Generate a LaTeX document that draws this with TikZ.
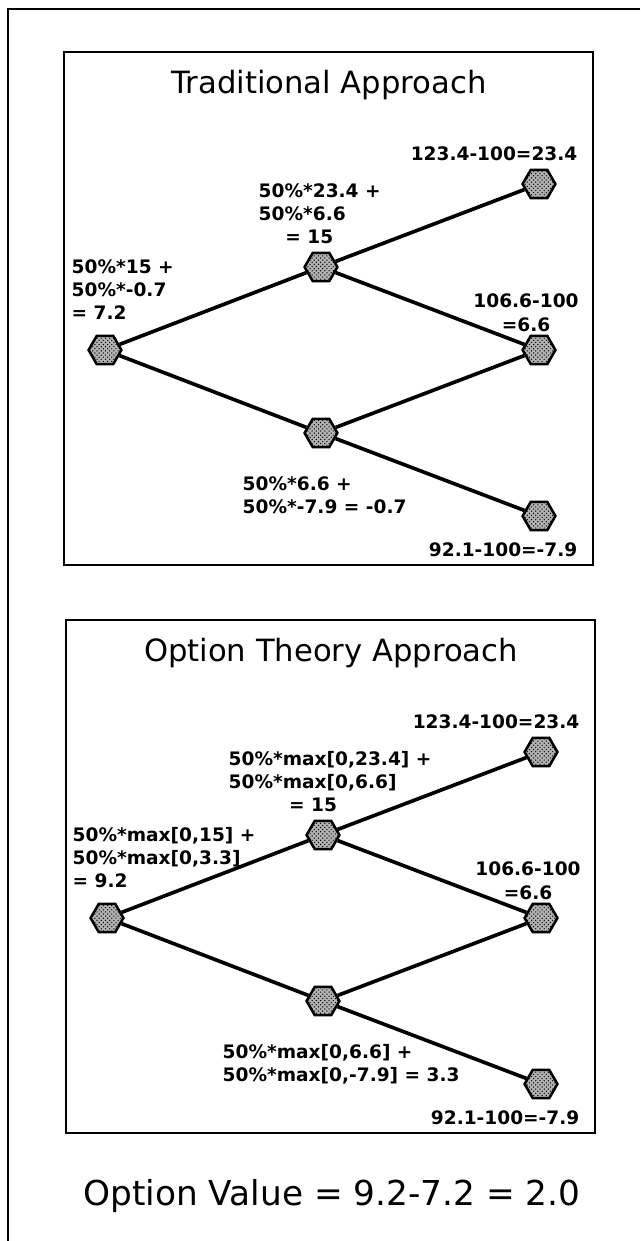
\documentclass[tikz,border=0pt]{standalone}
\usepackage{fontspec}
\setmainfont{DejaVu Sans}
\usetikzlibrary{shapes.geometric, patterns}
\tikzset{
  every picture/.style={line width=1pt},
  panel/.style={draw=black, line width=1pt},
  hex/.style={draw=black, regular polygon, regular polygon sides=6, minimum size=0.82cm, inner sep=0pt, line width=1.8pt, preaction={fill=black!30}, pattern=crosshatch dots, pattern color=black},
  edge/.style={draw=black, line width=2.6pt},
  title/.style={font=\fontsize{21.8}{26}\selectfont, inner sep=0pt},
  lbl/.style={font=\bfseries\fontsize{13.2}{16.4}\selectfont, inner sep=0pt, align=left},
}

\begin{document}
\begin{tikzpicture}[x=0.025cm, y=-0.025cm]
  \useasboundingbox (0,0) rectangle (640,1241);
  \draw[line width=2.1pt] (640,9) -- (8,9) -- (8,1241);
  \foreach \p/\dx/\dy/\ttl in {t/0/0/{Traditional Approach}, o/2/568/{Option Theory Approach}} {
    \draw[panel] (64+\dx,52+\dy) rectangle (593+\dx,565+\dy);
    \node[title] (\p-title) at (329+\dx,85+\dy) {\ttl};
    \node[hex] (\p-root) at (105+\dx,350+\dy) {};
    \node[hex] (\p-up) at (321+\dx,267+\dy) {};
    \node[hex] (\p-dn) at (321+\dx,433+\dy) {};
    \node[hex] (\p-ru) at (539+\dx,184+\dy) {};
    \node[hex] (\p-rm) at (539+\dx,350+\dy) {};
    \node[hex] (\p-rd) at (539+\dx,516+\dy) {};
    \foreach \a/\b in {root/up, root/dn, up/ru, up/rm, dn/rm, dn/rd} {\draw[edge] (\p-\a) -- (\p-\b);}
    \node[lbl, anchor=east] (\p-rulbl) at (578+\dx,154+\dy) {123.4-100=23.4};
    \node[lbl, align=center, anchor=south] (\p-rmlbl) at (526+\dx,332+\dy) {106.6-100\\=6.6};
    \node[lbl, anchor=east] (\p-rdlbl) at (578+\dx,550+\dy) {92.1-100=-7.9};
  }
  % traditional
  \node[lbl, anchor=north west] (t-rootlbl) at (71,259) {50\%*15 +\\50\%*-0.7\\= 7.2};
  \node[lbl, anchor=north west] (t-uplbl) at (258,183) {50\%*23.4 +\\50\%*6.6\\\hspace*{19pt}= 15};
  \node[lbl, anchor=north west] (t-dnlbl) at (242,476) {50\%*6.6 +\\50\%*-7.9 = -0.7};
  % option theory
  \node[lbl, anchor=north west] (o-rootlbl) at (72,827) {50\%*max[0,15] +\\50\%*max[0,3.3]\\= 9.2};
  \node[lbl, anchor=north west] (o-uplbl) at (228,751) {50\%*max[0,23.4] +\\50\%*max[0,6.6]\\\hspace*{43pt}= 15};
  \node[lbl, anchor=north west] (o-dnlbl) at (222,1044) {50\%*max[0,6.6] +\\50\%*max[0,-7.9] = 3.3};
  \node[font=\fontsize{24.4}{30}\selectfont] (value) at (332,1196) {Option Value = 9.2-7.2 = 2.0};
\end{tikzpicture}
\end{document}
